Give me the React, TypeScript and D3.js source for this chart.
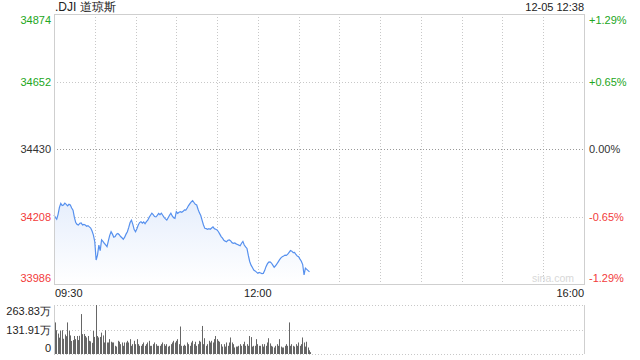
import React from "react";
import * as d3 from "d3";

const title = ".DJI 道琼斯";
const stamp = "12-05 12:38";
const prevClose = 34430;
const priceTicks = [34874, 34652, 34430, 34208, 33986];
const pctTicks = ["+1.29%", "+0.65%", "0.00%", "-0.65%", "-1.29%"];
const timeLabels = ["09:30", "12:00", "16:00"];
const timeLabelMinutes = [0, 150, 390];
const volTicks = ["263.83万", "131.91万", "0"];
const volMax = 263.83;

// price per minute from 09:30
const prices = [
  34213, 34205, 34199, 34215, 34238, 34251, 34244, 34246, 34252, 34248,
  34243, 34248, 34246, 34236, 34229, 34205, 34188, 34182, 34180, 34186,
  34187, 34180, 34182, 34180, 34176, 34178, 34174, 34170, 34160, 34147,
  34125, 34065, 34081, 34114, 34096, 34131, 34126, 34120, 34115, 34109,
  34128, 34146, 34158, 34150, 34140, 34142, 34150, 34152, 34148, 34142,
  34138, 34133, 34140, 34150, 34158, 34172, 34188, 34196, 34182, 34165,
  34158, 34168, 34180, 34188, 34191, 34186, 34190, 34184, 34191, 34196,
  34205, 34212, 34219, 34214, 34208, 34207, 34212, 34218, 34214, 34219,
  34212, 34205, 34200, 34196, 34204, 34212, 34219, 34210, 34204, 34202,
  34224, 34218, 34222, 34224, 34222, 34225, 34230, 34229, 34236, 34244,
  34250, 34256, 34260, 34254, 34248, 34246, 34232, 34220, 34211, 34195,
  34180, 34169, 34168, 34166, 34168, 34166, 34170, 34174, 34168, 34166,
  34164, 34158, 34150, 34142, 34137, 34130, 34127, 34125, 34130, 34131,
  34128, 34122, 34120, 34121, 34118, 34116, 34114, 34112, 34120, 34126,
  34114, 34108, 34103, 34080, 34060, 34048, 34040, 34032, 34029, 34025,
  34021, 34024, 34022, 34020, 34021, 34030, 34043, 34052, 34058, 34059,
  34055, 34048, 34041, 34046, 34052, 34059, 34066, 34072, 34076, 34078,
  34081, 34080, 34084, 34090, 34096, 34094, 34089, 34090, 34083, 34078,
  34076, 34068, 34061, 34050, 34016, 34038, 34034, 34030, 34026,
];

// volume per minute, 万
const volumes = [
  170, 128, 110, 88, 125, 128, 82, 105, 96, 170,
  125, 100, 70, 75, 97, 80, 97, 75, 98, 215,
  107, 108, 97, 89, 97, 71, 68, 60, 124, 92,
  263.83, 97, 89, 92, 115, 100, 62, 128, 62, 62,
  80, 66, 62, 62, 44, 40, 71, 66, 53, 62,
  44, 62, 62, 71, 62, 80, 44, 53, 71, 53,
  80, 53, 44, 44, 53, 62, 44, 53, 62, 71,
  44, 44, 53, 62, 53, 44, 44, 44, 53, 62,
  53, 44, 53, 40, 44, 53, 62, 71, 62, 71,
  80, 53, 148, 44, 44, 50, 44, 62, 53, 44,
  62, 71, 53, 66, 44, 53, 71, 66, 151, 53,
  85, 44, 53, 71, 62, 71, 62, 80, 97, 80,
  71, 66, 53, 40, 53, 40, 62, 44, 62, 89,
  62, 53, 35, 40, 40, 44, 53, 44, 53, 66,
  44, 53, 44, 97, 91, 40, 44, 44, 80, 53,
  44, 44, 53, 40, 53, 44, 62, 85, 57, 44,
  40, 35, 44, 53, 44, 80, 40, 35, 35, 44,
  53, 44, 170, 44, 53, 44, 40, 53, 44, 62,
  44, 53, 89, 62, 40, 66, 35, 20, 10,
];

const W = 640;
const L = 54;
const R = 584;
const T = 14;
const B = 284;
const VT = 305;
const VB = 354;
const FONT = "'Liberation Sans', Arial, sans-serif";
const GREEN = "#22a622";
const RED = "#f23b3b";
const GRID = "#c8c8c8";
const BORDER = "#cfcfcf";

export default function App() {
  const x = d3.scaleLinear().domain([0, 390]).range([L, R]);
  const y = d3.scaleLinear().domain([priceTicks[4], priceTicks[0]]).range([B, T]);
  const yv = d3.scaleLinear().domain([0, volMax]).range([VB, VT]);

  const line = d3
    .line<number>()
    .x((_, i) => x(i))
    .y((d) => y(d));
  const area = d3
    .area<number>()
    .x((_, i) => x(i))
    .y0(B)
    .y1((d) => y(d));

  const vGrid = d3.range(1, 13).map((k) => x(k * 30));
  const labelColor = (v: number) => (v > prevClose ? GREEN : v < prevClose ? RED : "#333");

  const labelY = (i: number, yy: number) => (i === 0 ? yy + 10 : i === priceTicks.length - 1 ? yy - 2 : yy + 4);

  return (
    <div>
      <style>{`body{margin:0}`}</style>
      <svg width={W} height={360} style={{ display: "block", fontFamily: FONT }}>
        <defs>
          <linearGradient id="fillGrad" x1="0" y1="0" x2="0" y2="1">
            <stop offset="0%" stopColor="#e6eefc" />
            <stop offset="100%" stopColor="#ffffff" />
          </linearGradient>
        </defs>
        <text x={L + 1} y={11} fontSize={12} fill="#222">
          {title}
        </text>
        <text x={R} y={11} fontSize={11} fill="#222" textAnchor="end">
          {stamp}
        </text>

        {/* vertical grid */}
        {vGrid.map((gx, i) => (
          <line key={"vg" + i} x1={Math.round(gx) + 0.5} x2={Math.round(gx) + 0.5} y1={T} y2={B} stroke={GRID} strokeDasharray="1,2" />
        ))}
        {/* horizontal grid */}
        {priceTicks.slice(1, 4).map((p, i) => (
          <line
            key={"hg" + i}
            x1={L}
            x2={R}
            y1={Math.round(y(p)) + 0.5}
            y2={Math.round(y(p)) + 0.5}
            stroke={p === prevClose ? "#999" : GRID}
            strokeDasharray="1,2"
          />
        ))}

        <path d={area(prices) || ""} fill="url(#fillGrad)" />
        <path d={line(prices) || ""} fill="none" stroke="#5690ee" strokeWidth={1.2} />

        <rect x={L + 0.5} y={T + 0.5} width={R - L} height={B - T} fill="none" stroke={BORDER} />

        <text x={R - 10} y={282} fontSize={10.5} fill="#d8d8d8" textAnchor="end">
          sina.com
        </text>

        {priceTicks.map((p, i) => (
          <text key={"pl" + i} x={51} y={labelY(i, y(p))} fontSize={11} fill={labelColor(p)} textAnchor="end">
            {p}
          </text>
        ))}
        {pctTicks.map((t, i) => (
          <text key={"pr" + i} x={589} y={labelY(i, y(priceTicks[i]))} fontSize={11} fill={labelColor(priceTicks[i])}>
            {t}
          </text>
        ))}

        {timeLabels.map((t, i) => (
          <text
            key={"tl" + i}
            x={i === 0 ? L + 1 : i === timeLabels.length - 1 ? R : x(timeLabelMinutes[i])}
            y={297}
            fontSize={11}
            fill="#222"
            textAnchor={i === 0 ? "start" : i === timeLabels.length - 1 ? "end" : "middle"}
          >
            {t}
          </text>
        ))}

        {/* volume panel */}
        {[VT, (VT + VB) / 2, VB].map((gy, i) => (
          <line key={"vl" + i} x1={L} x2={R} y1={Math.round(gy) + 0.5} y2={Math.round(gy) + 0.5} stroke={GRID} strokeDasharray="1,2" />
        ))}
        <line x1={L + 0.5} x2={L + 0.5} y1={VT} y2={VB} stroke={BORDER} />
        <line x1={R + 0.5} x2={R + 0.5} y1={VT} y2={VB} stroke={BORDER} />
        {volumes.map((v, i) => (
          <rect key={"vb" + i} x={Math.round(x(i)) + 1} y={yv(v)} width={1} height={VB - yv(v)} fill="#666" />
        ))}
        {volTicks.map((t, i) => (
          <text key={"vt" + i} x={51} y={i === 0 ? 315 : i === 1 ? 334 : 352} fontSize={11} fill="#222" textAnchor="end">
            {t}
          </text>
        ))}
      </svg>
    </div>
  );
}
